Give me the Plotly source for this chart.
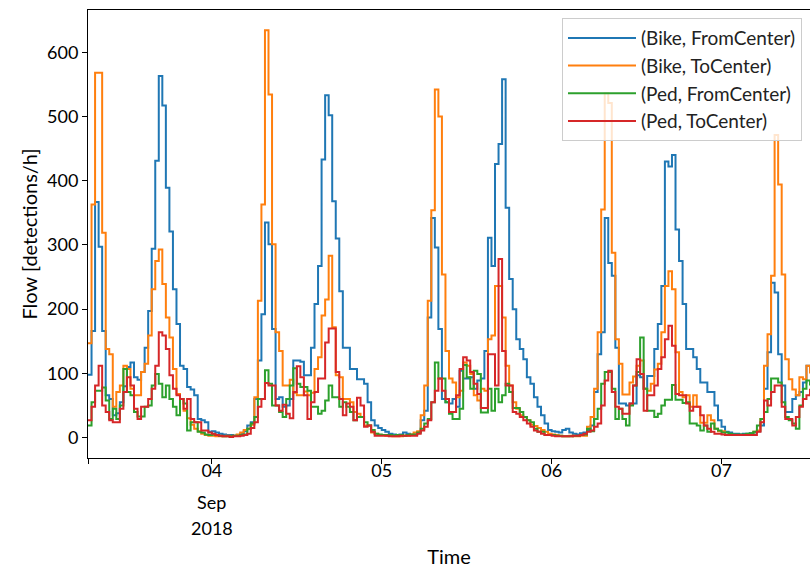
import pandas as pd
import plotly.graph_objects as go

start = "2018-09-03 06:30"
n_steps = 205

bike_from = [
    98, 166, 367, 297, 166, 66, 60, 35, 38, 55,
    80, 110, 117, 94, 90, 102, 140, 197, 294, 431,
    563, 517, 389, 321, 231, 177, 112, 107, 79, 75,
    66, 29, 27, 24, 9, 10, 8, 6, 5, 4,
    4, 3, 4, 6, 10, 19, 24, 60, 120, 192,
    335, 301, 169, 60, 63, 48, 50, 60, 120, 120,
    118, 97, 97, 140, 208, 267, 433, 533, 502, 368,
    310, 228, 140, 140, 107, 107, 91, 91, 84, 55,
    27, 19, 15, 12, 9, 6, 5, 4, 5, 8,
    6, 4, 5, 8, 27, 42, 187, 342, 296, 169,
    60, 55, 53, 60, 48, 104, 92, 92, 94, 76,
    89, 92, 135, 311, 267, 426, 457, 558, 358, 247,
    200, 153, 138, 122, 94, 84, 63, 48, 35, 22,
    12, 10, 9, 8, 12, 14, 8, 6, 5, 7,
    8, 12, 19, 71, 130, 164, 342, 272, 252, 140,
    53, 53, 50, 53, 53, 97, 94, 76, 96, 96,
    138, 177, 236, 430, 422, 440, 324, 275, 208, 138,
    138, 125, 107, 86, 86, 71, 71, 50, 27, 17,
    9, 8, 6, 6, 5, 6, 6, 7, 8, 10,
    19, 76, 133, 241, 226, 130, 81, 40, 40, 60,
    66, 71, 86, 112, 107,
]

bike_to = [
    147, 363, 568, 568, 319, 138, 130, 48, 71, 81,
    112, 107, 76, 66, 66, 102, 115, 159, 231, 275,
    293, 239, 187, 156, 107, 68, 60, 42, 30, 20,
    14, 10, 6, 4, 3, 3, 2, 2, 2, 3,
    2, 3, 5, 8, 12, 14, 20, 63, 213, 363,
    634, 534, 301, 164, 135, 81, 81, 90, 70, 66,
    66, 72, 66, 70, 107, 125, 190, 215, 283, 172,
    97, 94, 60, 60, 55, 40, 37, 32, 19, 19,
    8, 6, 4, 4, 3, 3, 2, 2, 2, 3,
    3, 5, 8, 10, 35, 81, 213, 354, 542, 500,
    254, 135, 92, 86, 63, 73, 117, 112, 99, 66,
    58, 76, 73, 153, 159, 236, 236, 187, 112, 81,
    55, 45, 35, 32, 27, 20, 18, 15, 12, 9,
    6, 5, 4, 3, 2, 2, 3, 2, 2, 3,
    3, 17, 32, 76, 164, 355, 536, 521, 288, 153,
    115, 67, 67, 86, 95, 112, 120, 76, 73, 84,
    106, 115, 164, 236, 259, 231, 133, 71, 63, 66,
    48, 66, 48, 23, 23, 35, 27, 14, 10, 10,
    4, 4, 4, 4, 4, 4, 4, 4, 9, 11,
    29, 112, 161, 252, 471, 394, 254, 122, 91, 75,
    66, 94, 91, 112, 100,
]

ped_from = [
    19, 55, 73, 73, 78, 58, 29, 45, 29, 50,
    107, 71, 66, 40, 33, 33, 48, 50, 81, 99,
    84, 63, 81, 60, 48, 35, 60, 53, 11, 24,
    24, 9, 8, 5, 4, 5, 4, 3, 2, 2,
    2, 3, 3, 4, 5, 14, 22, 32, 60, 60,
    105, 84, 50, 50, 40, 32, 60, 81, 108, 84,
    79, 79, 73, 48, 48, 37, 42, 58, 81, 63,
    63, 48, 55, 48, 40, 27, 32, 32, 24, 19,
    12, 6, 5, 4, 4, 4, 3, 4, 4, 3,
    4, 5, 5, 8, 14, 22, 29, 55, 117, 92,
    92, 55, 37, 29, 29, 45, 113, 94, 76, 104,
    99, 39, 39, 76, 42, 76, 55, 66, 84, 71,
    46, 46, 40, 32, 27, 24, 14, 9, 9, 4,
    4, 4, 3, 3, 2, 2, 2, 3, 3, 4,
    5, 14, 10, 29, 45, 84, 102, 102, 76, 29,
    45, 29, 19, 50, 81, 102, 156, 76, 42, 42,
    32, 37, 50, 59, 59, 82, 59, 59, 54, 55,
    22, 22, 19, 11, 19, 9, 22, 14, 11, 8,
    8, 6, 5, 5, 5, 5, 6, 7, 9, 19,
    29, 40, 60, 92, 92, 86, 55, 32, 27, 22,
    14, 50, 76, 89, 81,
]

ped_to = [
    27, 48, 81, 112, 50, 40, 27, 24, 24, 45,
    71, 94, 81, 45, 29, 48, 48, 60, 76, 112,
    164, 159, 138, 97, 76, 66, 60, 45, 60, 29,
    24, 24, 11, 11, 8, 6, 4, 3, 2, 2,
    1, 2, 2, 3, 4, 6, 15, 24, 48, 60,
    85, 81, 81, 50, 42, 51, 37, 30, 71, 111,
    94, 66, 29, 55, 71, 92, 92, 148, 170, 170,
    102, 60, 35, 53, 48, 27, 62, 50, 17, 19,
    9, 3, 3, 3, 3, 2, 2, 2, 3, 3,
    3, 3, 3, 6, 11, 17, 27, 55, 73, 92,
    73, 60, 40, 40, 66, 107, 125, 120, 102, 84,
    68, 46, 46, 130, 130, 81, 278, 135, 81, 81,
    40, 37, 32, 27, 22, 17, 11, 9, 6, 4,
    4, 3, 2, 2, 2, 2, 2, 3, 3, 4,
    6, 9, 11, 17, 22, 50, 89, 104, 71, 48,
    45, 37, 37, 53, 81, 122, 99, 42, 66, 66,
    81, 107, 125, 153, 174, 143, 68, 66, 66, 53,
    42, 48, 48, 35, 19, 14, 9, 6, 6, 5,
    4, 4, 4, 4, 4, 4, 4, 4, 4, 9,
    24, 58, 50, 71, 81, 81, 48, 29, 29, 19,
    32, 48, 60, 66, 76,
]

series_names = ["(Bike, FromCenter)", "(Bike, ToCenter)", "(Ped, FromCenter)", "(Ped, ToCenter)"]
series_colors = ["#1f77b4", "#ff7f0e", "#2ca02c", "#d62728"]
series_values = [bike_from, bike_to, ped_from, ped_to]

tick_dates = ["2018-09-03 06:30", "2018-09-04", "2018-09-05", "2018-09-06", "2018-09-07"]
tick_labels = ["", "04", "05", "06", "07"]
month_label = "Sep"
year_label = "2018"
month_date = "2018-09-04"
y_ticks = [0, 100, 200, 300, 400, 500, 600]

times = pd.date_range(start, periods=n_steps, freq="30min")

FONT = "Lato, 'Open Sans', sans-serif"

fig = go.Figure()
for k, (name, color, vals) in enumerate(zip(series_names, series_colors, series_values)):
    fig.add_trace(go.Scatter(
        x=times, y=vals, name=name, mode="lines",
        line=dict(color=color, width=2, shape="hv"),
        legendgroup=f"g{k}",
    ))

# secondary (month / year) date labels under the first day tick
fig.add_annotation(x=month_date, y=-0.098, xref="x", yref="paper", text=month_label,
                   showarrow=False, xanchor="center", yanchor="middle",
                   font=dict(family=FONT, size=18, color="black"))
fig.add_annotation(x=month_date, y=-0.156, xref="x", yref="paper", text=year_label,
                   showarrow=False, xanchor="center", yanchor="middle",
                   font=dict(family=FONT, size=18, color="black"))

fig.update_layout(
    width=810, height=571,
    margin=dict(l=88, r=0, t=10, b=113),
    paper_bgcolor="white", plot_bgcolor="white",
    font=dict(family=FONT, size=18, color="black"),
    showlegend=True,
    legend=dict(
        x=0.6565, y=0.982, xanchor="left", yanchor="top",
        bgcolor="rgba(255,255,255,0.8)", bordercolor="#cccccc", borderwidth=1,
        font=dict(family=FONT, size=19, color="#222222"),
        tracegroupgap=0, itemwidth=68,
    ),
)
fig.update_xaxes(
    type="date", automargin=False,
    range=["2018-09-03 06:30", "2018-09-07 12:30"],
    tickvals=tick_dates, ticktext=tick_labels,
    ticks="outside", ticklen=5, tickcolor="black", tickwidth=1,
    ticklabelstandoff=-9,
    showline=True, linecolor="black", linewidth=1, mirror=True,
    showgrid=False, zeroline=False,
    title=dict(text="Time", font=dict(size=20), standoff=70),
)
fig.update_yaxes(
    automargin=False,
    range=[-31.7, 665.7],
    tickvals=y_ticks,
    ticks="outside", ticklen=5, tickcolor="black", tickwidth=1,
    showline=True, linecolor="black", linewidth=1, mirror=True,
    showgrid=False, zeroline=False,
    title=dict(text="Flow [detections/h]", font=dict(size=20), standoff=4),
)

fig.write_html("out.html")
